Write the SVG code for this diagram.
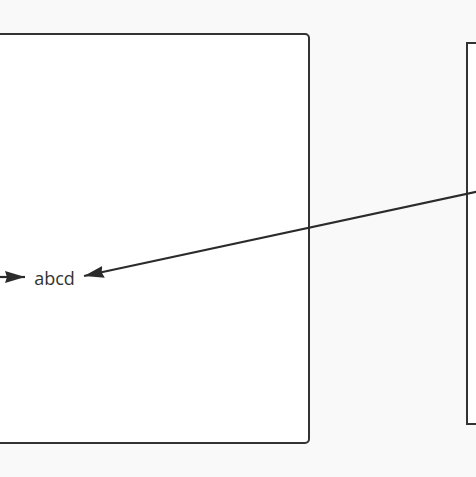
<svg xmlns="http://www.w3.org/2000/svg" width="476" height="477" viewBox="0 0 476 477">
<style>
.box{fill:#ffffff;stroke:#333333;stroke-width:2}
.conn{stroke:#2b2b2b;stroke-width:2.2;fill:none}
.lbl{font-family:"Open Sans","Liberation Sans",sans-serif;font-size:18px;fill:#333333}
</style>
<defs>
<marker id="ah2" viewBox="0 0 20 12" refX="20" refY="6" markerWidth="20" markerHeight="12" markerUnits="userSpaceOnUse" orient="auto">
<path d="M0,0 L20,6 L0,12 L2,6 Z" fill="#2b2b2b"/>
</marker>
</defs>
<rect width="476" height="477" fill="#f9f9f9"/>
<g id="left-box"><rect class="box" x="-10" y="34" width="319" height="409" rx="4"/></g>
<g id="right-box"><rect class="box" x="467" y="43" width="20" height="381"/></g>
<g id="node-abcd"><text class="lbl" x="54.5" y="285" text-anchor="middle">abcd</text></g>
<g id="connectors">
<line class="conn" x1="-2" y1="277" x2="25" y2="277" marker-end="url(#ah2)"/>
<line class="conn" x1="480" y1="191" x2="84" y2="276" marker-end="url(#ah2)"/>
</g>
</svg>
